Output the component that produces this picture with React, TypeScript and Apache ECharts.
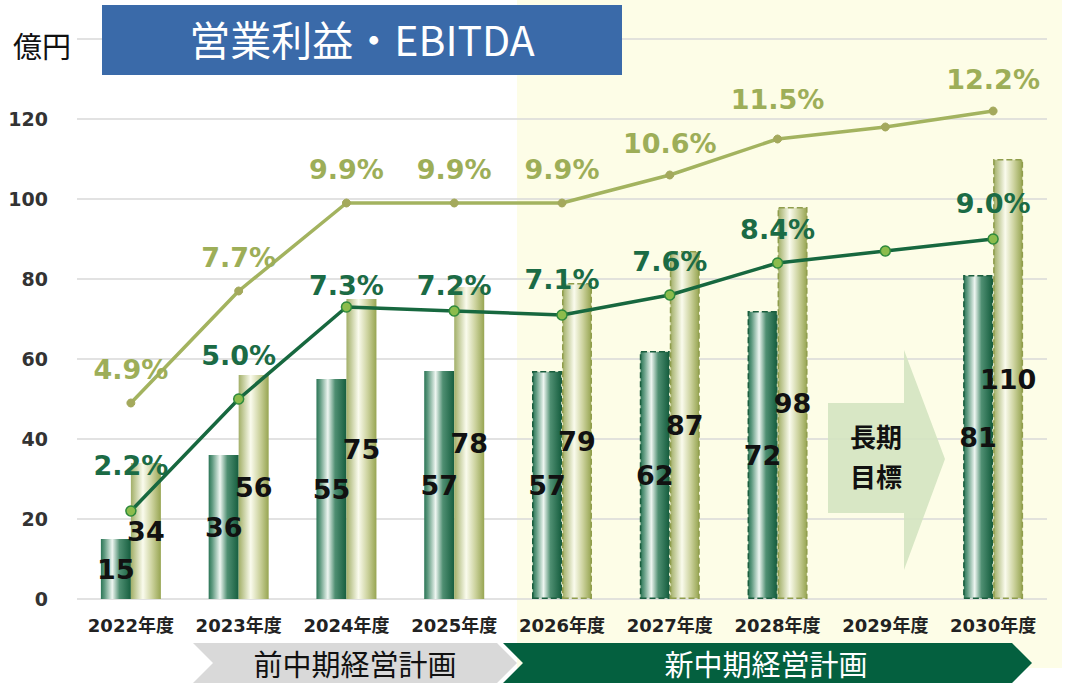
import React, { useEffect, useRef } from "react";
import * as echarts from "echarts";

const categories = ["2022年度", "2023年度", "2024年度", "2025年度", "2026年度", "2027年度", "2028年度", "2029年度", "2030年度"];
const operatingProfit = [15, 36, 55, 57, 57, 62, 72, null, 81];
const ebitda = [34, 56, 75, 78, 79, 87, 98, null, 110];
const ebitdaMargin = [4.9, 7.7, 9.9, 9.9, 9.9, 10.6, 11.5, 11.8, 12.2];
const operatingMargin = [2.2, 5.0, 7.3, 7.2, 7.1, 7.6, 8.4, 8.7, 9.0];
const unlabeledYear = "2029年度";
const newPlanStart = "2026年度";
const yTicks = [0, 20, 40, 60, 80, 100, 120];
const titleText = "営業利益・EBITDA";
const unitText = "億円";
const prevPlanText = "前中期経営計画";
const newPlanText = "新中期経営計画";
const longTermText = "長期\n目標";

const FONT = "'DejaVu Sans', 'Noto Sans CJK JP', sans-serif";
const CJK = "'Noto Sans CJK JP', sans-serif";

// label distance tweaks (style only)
const greenDist = [26, 24, 2, 6, 16, 14, 14, 14, 16];
const oliveDist = [16, 16, 16, 16, 16, 14, 22, 14, 14];

export default function App() {
  const ref = useRef<HTMLDivElement>(null);
  useEffect(() => {
    const chart = echarts.init(ref.current!, null, { renderer: "svg" });
    const startIdx = categories.indexOf(newPlanStart);
    const darkGrad = {
      type: "linear", x: 0, y: 0, x2: 1, y2: 0,
      colorStops: [
        { offset: 0, color: "#2b7556" },
        { offset: 0.12, color: "#5f9a80" },
        { offset: 0.38, color: "#eef6f1" },
        { offset: 0.62, color: "#4f8f72" },
        { offset: 1, color: "#165e3f" },
      ],
    };
    const lightGrad = {
      type: "linear", x: 0, y: 0, x2: 1, y2: 0,
      colorStops: [
        { offset: 0, color: "#a2af68" },
        { offset: 0.4, color: "#fafbed" },
        { offset: 0.7, color: "#cdd39f" },
        { offset: 1, color: "#97a552" },
      ],
    };
    const barData = (arr: (number | null)[], border: string) =>
      arr.map((v, i) =>
        i >= startIdx
          ? { value: v, itemStyle: { borderColor: border, borderWidth: 1.5, borderType: "dashed" } }
          : { value: v }
      );
    const barLabel = {
      show: true,
      position: "inside",
      color: "#111",
      fontFamily: FONT,
      fontWeight: "bold",
      fontSize: 27,
    };
    const lineData = (arr: number[], dist: number[], color: string) =>
      arr.map((v, i) => ({
        value: v,
        label: {
          show: categories[i] !== unlabeledYear,
          position: "top",
          distance: dist[i],
          color,
          fontFamily: FONT,
          fontWeight: "bold",
          fontSize: 27,
          formatter: (p: any) => p.value.toFixed(1) + "%",
        },
      }));

    const option: any = {
      animation: false,
      backgroundColor: "#ffffff",
      grid: { left: 77, right: 20, top: 39, bottom: 85 },
      xAxis: {
        type: "category",
        data: categories,
        axisLine: { show: false },
        axisTick: { show: false },
        axisLabel: {
          interval: 0,
          color: "#222",
          fontFamily: FONT,
          fontWeight: "bold",
          fontSize: 18,
          margin: 17,
        },
      },
      yAxis: [
        {
          type: "value",
          min: 0,
          max: 140,
          interval: 20,
          axisLine: { show: false },
          axisTick: { show: false },
          splitLine: { lineStyle: { color: "#d9d9d9", width: 1.5 } },
          axisLabel: {
            color: "#333",
            fontFamily: FONT,
            fontWeight: "bold",
            fontSize: 19,
            margin: 29,
            formatter: (v: number) => (yTicks.includes(v) ? String(v) : ""),
          },
        },
        {
          type: "value",
          min: 0,
          max: 14,
          interval: 2,
          show: false,
        },
      ],
      series: [
        {
          name: "営業利益",
          type: "bar",
          barWidth: 30,
          barGap: "0%",
          data: barData(operatingProfit, "#1a5e3e"),
          itemStyle: { color: darkGrad },
          label: barLabel,
          z: 2,
        },
        {
          name: "EBITDA",
          type: "bar",
          barWidth: 30,
          barGap: "0%",
          data: barData(ebitda, "#8f9d4c"),
          itemStyle: { color: lightGrad },
          label: barLabel,
          z: 2,
        },
        {
          name: "EBITDAマージン",
          type: "line",
          yAxisIndex: 1,
          data: lineData(ebitdaMargin, oliveDist, "#9dae58"),
          lineStyle: { color: "#a3b35f", width: 3.5 },
          itemStyle: { color: "#a4a95c", borderColor: "#a4a95c" },
          symbol: "circle",
          symbolSize: 8,
          z: 5,
        },
        {
          name: "営業利益率",
          type: "line",
          yAxisIndex: 1,
          data: lineData(operatingMargin, greenDist, "#1b6b45"),
          lineStyle: { color: "#17683f", width: 3.5 },
          itemStyle: { color: "#8cbc4c", borderColor: "#2f8a3c", borderWidth: 1.5 },
          symbol: "circle",
          symbolSize: 10,
          z: 6,
        },
      ],
      graphic: [
        {
          type: "rect",
          z: -10,
          silent: true,
          shape: { x: 517, y: 0, width: 545, height: 668 },
          style: { fill: "#fdfde7" },
        },
        {
          type: "rect",
          z: 10,
          shape: { x: 102, y: 5, width: 520, height: 70 },
          style: { fill: "#3a6aa9" },
        },
        {
          type: "text",
          z: 11,
          x: 362,
          y: 38,
          style: {
            text: titleText,
            fill: "#ffffff",
            font: `41px ${CJK}`,
            textAlign: "center",
            textVerticalAlign: "middle",
          },
        },
        {
          type: "text",
          z: 11,
          x: 42,
          y: 45,
          style: {
            text: unitText,
            fill: "#111",
            font: `29px ${CJK}`,
            textAlign: "center",
            textVerticalAlign: "middle",
          },
        },
        {
          type: "polygon",
          z: 1,
          shape: { points: [[828, 403], [904, 403], [904, 350], [945, 459], [904, 570], [904, 513], [828, 513]] },
          style: { fill: "#d4e4c1", opacity: 0.9 },
        },
        {
          type: "text",
          z: 3,
          x: 876,
          y: 455,
          style: {
            text: longTermText,
            fill: "#111",
            font: `bold 26px ${CJK}`,
            lineHeight: 40,
            textAlign: "center",
            textVerticalAlign: "middle",
          },
        },
        {
          type: "polygon",
          z: 10,
          shape: { points: [[193, 643], [497, 643], [517, 663], [497, 683], [193, 683], [213, 663]] },
          style: { fill: "#d9d9d9" },
        },
        {
          type: "text",
          z: 11,
          x: 355,
          y: 663,
          style: {
            text: prevPlanText,
            fill: "#111",
            font: `29px ${CJK}`,
            textAlign: "center",
            textVerticalAlign: "middle",
          },
        },
        {
          type: "polygon",
          z: 10,
          shape: { points: [[503, 643], [1012, 643], [1032, 663], [1012, 683], [503, 683], [523, 663]] },
          style: { fill: "#04603f" },
        },
        {
          type: "text",
          z: 11,
          x: 766,
          y: 663,
          style: {
            text: newPlanText,
            fill: "#ffffff",
            font: `29px ${CJK}`,
            textAlign: "center",
            textVerticalAlign: "middle",
          },
        },
      ],
    };
    chart.setOption(option);
    return () => chart.dispose();
  }, []);
  return (
    <div
      ref={ref}
      style={{ position: "fixed", left: 0, top: 0, width: 1067, height: 684 }}
    />
  );
}
